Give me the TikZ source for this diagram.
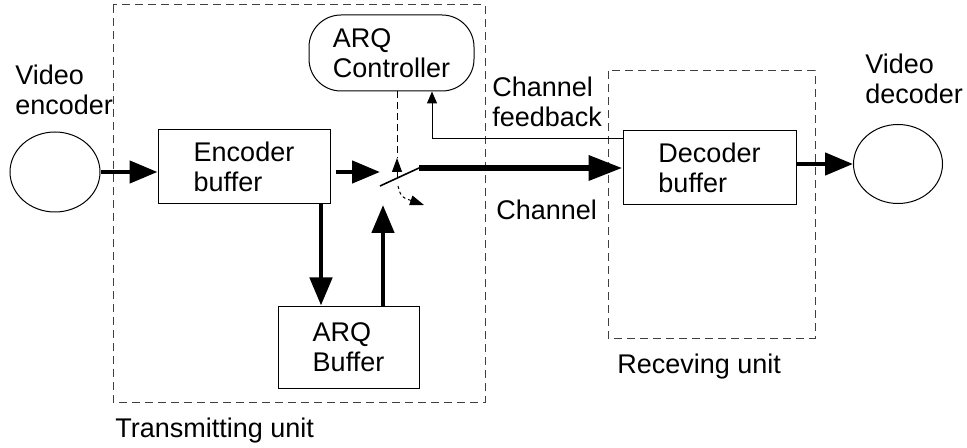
\documentclass[tikz,border=0pt]{standalone}
\usepackage{fontspec}
\setmainfont{Liberation Sans}
\usetikzlibrary{arrows.meta,shapes.geometric}

\tikzset{
  unitbox/.style={draw=black!75, line width=0.5pt, dash pattern=on 4pt off 2.5pt},
  bufbox/.style={draw, line width=0.5pt, align=left, inner sep=0pt},
  lbl/.style={anchor=north west, inner sep=0pt, align=left},
  bigarrow/.style={line width=2.3pt, -{Triangle[length=14pt,width=11pt]}},
  chanarrow/.style={line width=3.3pt, -{Triangle[length=17pt,width=12pt]}},
  smallarrow/.style={line width=0.5pt, -{Triangle[length=6pt,width=5pt]}},
  swarrow/.style={line width=0.5pt, -{Triangle[length=7pt,width=5pt]}},
}

\begin{document}
\begin{tikzpicture}[x=0.5pt, y=-0.5pt, font=\fontsize{13.5}{15}\selectfont]
\useasboundingbox (0,0) rectangle (967,448);

% the two units
\draw [unitbox] (113,5) rectangle (485,402);
\draw [unitbox] (608,71) rectangle (815,338);
\node [lbl] (txlbl) at (115,418) {Transmitting unit};
\node [lbl] (rxlbl) at (617,354) {Receving unit};

\node [draw, ellipse, line width=0.5pt, minimum width=45pt, minimum height=40pt] (venc) at (55,172) {};
\node [draw, ellipse, line width=0.5pt, minimum width=44.5pt, minimum height=39.5pt] (vdec) at (898,164) {};
\node [lbl] (venclbl) at (15,65) {Video\\encoder};
\node [lbl] (vdeclbl) at (865,54) {Video\\decoder};

\node [bufbox, minimum width=86pt, minimum height=37pt] (encbuf) at (244,167) {Encoder\\buffer};
\node [bufbox, minimum width=86.5pt, minimum height=37pt] (decbuf) at (709.5,168) {Decoder\\buffer};
\node [bufbox, minimum width=70.5pt, minimum height=41pt] (arqbuf) at (348.5,347) {ARQ\\Buffer};
\node [bufbox, rounded corners=16pt, minimum width=82.5pt, minimum height=38pt] (ctrl) at (391.5,53) {ARQ\\Controller};

% switch
\coordinate (swin) at (380,186);
\coordinate (swout) at (419,168);
\coordinate (swtip) at (380,172);
\coordinate (swbot) at (383,205);
\coordinate (dn) at (321,0);
\coordinate (ctltip) at (397,158);
\coordinate (ctlbase) at (397,178);
\draw [line width=0.8pt] (swin) -- (swout);

\draw [bigarrow] (venc.east |- 0,172) -- (encbuf.west |- 0,172);
\draw [bigarrow, shorten <=2.5pt] (encbuf.east |- swtip) -- (swtip);
\draw [bigarrow] (dn |- encbuf.south) -- (dn |- arqbuf.north);
\draw [bigarrow] (swbot |- arqbuf.north) -- (swbot);
\draw [chanarrow] (swout) -- (decbuf.west |- swout);
\draw [bigarrow] (decbuf.east |- vdec) -- (vdec.west);

% control of the switch
\draw [line width=0.5pt, dash pattern=on 3.5pt off 2pt] (ctltip |- ctrl.south) -- (ctltip);
\draw [swarrow] (ctlbase) -- (ctltip);
\draw [swarrow, dash pattern=on 1.5pt off 1.5pt] (398,186) .. controls (401,197) .. (424,205);

% feedback
\coordinate (fb) at (432,139);
\draw [smallarrow] (decbuf.west |- fb) -- (fb) -- (fb |- ctrl.south);

\node [lbl] (fblbl) at (492,77) {Channel\\feedback};
\node [lbl] (chlbl) at (496,200) {Channel};
\end{tikzpicture}
\end{document}
